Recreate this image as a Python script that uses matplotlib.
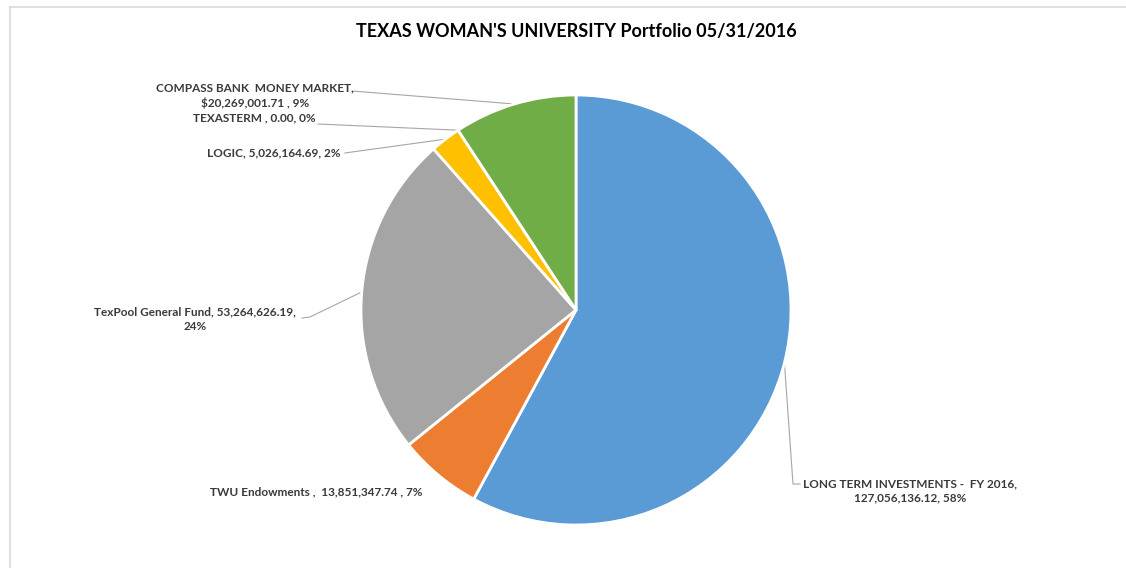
import numpy as np
import matplotlib
matplotlib.use("Agg")
import matplotlib.pyplot as plt
from matplotlib.lines import Line2D

categories = ["LONG TERM INVESTMENTS -  FY 2016", "TWU Endowments ", "TexPool General Fund",
              "LOGIC", "TEXASTERM ", "COMPASS BANK  MONEY MARKET"]
values = [127056136.12, 13851347.74, 53264626.19, 5026164.69, 0.00, 20269001.71]
label_texts = [
    "LONG TERM INVESTMENTS -  FY 2016,\n127,056,136.12, 58%",
    "TWU Endowments ,  13,851,347.74 , 7%",
    "TexPool General Fund, 53,264,626.19,\n24%",
    "LOGIC, 5,026,164.69, 2%",
    "TEXASTERM , 0.00, 0%",
    "COMPASS BANK  MONEY MARKET,\n$20,269,001.71 , 9%",
]
colors = ["#5B9BD5", "#ED7D31", "#A5A5A5", "#FFC000", "#4472C4", "#70AD47"]
title = "TEXAS WOMAN'S UNIVERSITY Portfolio 05/31/2016"

W, H = 1126, 568
fig = plt.figure(figsize=(W / 100, H / 100), dpi=100)
ax = fig.add_axes([0, 0, 1, 1])
ax.set_xlim(0, W)
ax.set_ylim(0, H)
ax.axis("off")

cx, cy, R = 576, H - 310, 215
wedges, _ = ax.pie(values, colors=colors, startangle=90, counterclock=False,
                   center=(cx, cy), radius=R,
                   wedgeprops=dict(edgecolor="white", linewidth=2))
ax.set_xlim(0, W)
ax.set_ylim(0, H)
ax.set_aspect("equal")

font = "Lato"
tc = "#3A3A3A"
label_pos = [(910, 491), (316, 492), (195, 319), (274, 153), (254, 118), (255, 96)]
leader_end = [(800, 484), None, (302, 318), (345, 153), (318, 124), (352, 91)]
elbow = [(793, 484), None, (310, 317), (352, 152), None, None]

for w, txt, (lx, ly), le, el in zip(wedges, label_texts, label_pos, leader_end, elbow):
    ax.text(lx, H - ly, txt, ha="center", va="center", fontsize=8.45, fontweight="bold",
            family=font, color=tc, linespacing=1.35)
    if le is not None:
        mid = np.deg2rad((w.theta1 + w.theta2) / 2)
        px, py = cx + R * np.cos(mid), cy + R * np.sin(mid)
        xs = [px]
        ys = [py]
        if el is not None:
            xs.append(el[0]); ys.append(H - el[1])
        xs.append(le[0]); ys.append(H - le[1])
        ax.plot(xs, ys, color="#A6A6A6", lw=0.8, zorder=0)

ax.text(576, H - 32, title, ha="center", va="center", fontsize=13, fontweight="bold",
        family=font, color="#000000")

fig.add_artist(Line2D([10 / W, 10 / W], [0, 1 - 7 / H], color="#D9D9D9", lw=1.2))
fig.add_artist(Line2D([10 / W, 1], [1 - 7 / H, 1 - 7 / H], color="#D9D9D9", lw=1.2))

fig.savefig("out.png", dpi=100)
